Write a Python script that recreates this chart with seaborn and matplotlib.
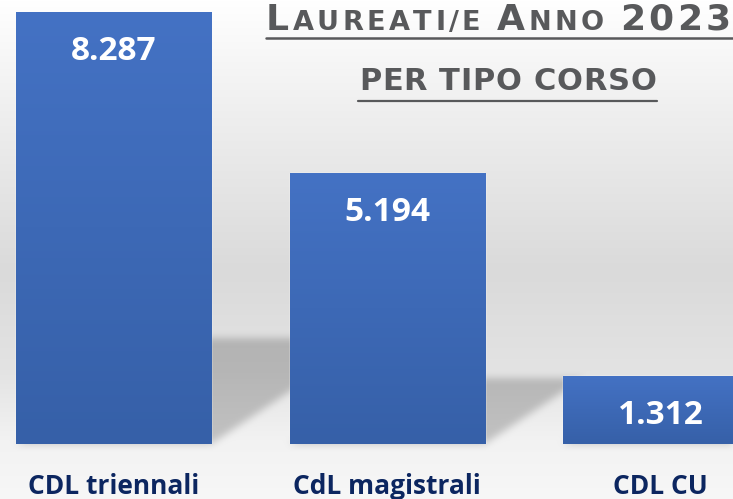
import numpy as np
import pandas as pd
import seaborn as sns
import matplotlib.pyplot as plt

# dati
categories = ["CDL triennali", "CdL magistrali", "CDL CU"]
laureati = [8287, 5194, 1312]
value_labels = ["8.287", "5.194", "1.312"]

# titolo in maiuscoletto: (testo, grande/piccolo)
title_parts = [("L", "big"), ("AUREATI/E ", "small"), ("A", "big"),
               ("NNO ", "small"), ("2023", "big")]
subtitle = "PER TIPO CORSO"

W, H = 733, 499
BAR_TOP = np.array([68, 114, 196]) / 255
BAR_BOT = np.array([54, 96, 168]) / 255
GRAY_TXT = "#58595b"
TITLE_FONT = ['DejaVu Sans']

sns.set_theme(style="white")
plt.rcParams['font.family'] = ['Open Sans', 'DejaVu Sans']

fig = plt.figure(figsize=(W / 100, H / 100), dpi=100)
fig.patch.set_facecolor('#f5f5f5')
bg_ax = fig.add_axes([0, 0, 1, 1], zorder=0)
bg_ax.axis('off')
ax = fig.add_axes([0, 55 / H, 1, 444 / H], zorder=1)
ax.patch.set_alpha(0)

df = pd.DataFrame({"corso": categories, "laureati": laureati})
sns.barplot(data=df, x="corso", y="laureati", color="#4472c4", saturation=1,
            width=0.713, ax=ax)

# gradiente dentro le barre
g = np.linspace(0, 1, 256)[:, None, None]
rgb = BAR_TOP * (1 - g) + BAR_BOT * g
for p in ax.patches:
    x, w, h = p.get_x(), p.get_width(), p.get_height()
    im = ax.imshow(rgb, extent=(x, x + w, 0, h), aspect='auto',
                   zorder=p.get_zorder() + 0.1)
    im.set_clip_path(p)

ax.set_xlim(-0.415, 2.265)
ax.set_ylim(0, max(laureati) / 0.973)
sns.despine(ax=ax, left=True, bottom=True)
ax.set_yticks([])
ax.set_xlabel("")
ax.set_ylabel("")
ax.tick_params(axis='x', length=0, pad=21, labelsize=19, labelcolor='#0c2660')
for lab in ax.get_xticklabels():
    lab.set_fontweight('bold')

for p, lab in zip(ax.patches, value_labels):
    ax.annotate(lab, (p.get_x() + p.get_width() / 2, p.get_height()),
                xytext=(0, -48), textcoords='offset pixels', ha='center',
                va='baseline', color='white', fontsize=24, fontweight='bold',
                zorder=5)

# sfondo: gradiente verticale + ombre prospettiche
rows = np.arange(H)
grad = np.interp(rows, [0, 110, 270, 370, 440, 499],
                 [255, 239, 218, 227, 242, 247]) / 255
img = np.repeat(grad[:, None], W, axis=1)

yy, xx = np.mgrid[0:H, 0:W] + 0.5
shade = np.zeros((H, W))
for p in ax.patches:
    (x0, y0), (x1, y1) = ax.transData.transform(
        [(p.get_x(), 0), (p.get_x() + p.get_width(), p.get_height())])
    floor = H - y0
    sh = 0.245 * (y1 - y0)
    f = floor - yy
    inside = (f >= 0) & (f <= sh) & (xx >= x0 + 1.5 * f) & (xx <= x1 + 1.5 * f)
    shade[inside] = 1


def blur(a, k):
    kern = np.ones(k) / k
    a = np.apply_along_axis(lambda r: np.convolve(r, kern, mode='same'), 1, a)
    return np.apply_along_axis(lambda c: np.convolve(c, kern, mode='same'), 0, a)


shade = blur(blur(shade, 9), 9)
img = img * (1 - 0.2 * shade)
bg_ax.imshow(np.dstack([img] * 3), extent=(0, W, 0, H), aspect='auto')
bg_ax.set_xlim(0, W)
bg_ax.set_ylim(0, H)

# testo spaziato carattere per carattere
renderer = fig.canvas.get_renderer()


def text_width(s, size):
    t = fig.text(0, 0, s, fontsize=size, fontweight='bold', family=TITLE_FONT)
    w = t.get_window_extent(renderer).width
    t.remove()
    return w


def spaced_text(chars, left, right, baseline, color):
    advs = [text_width(c + "|", s) - text_width("|", s) for c, s in chars]
    advs[-1] = text_width(chars[-1][0], chars[-1][1])
    track = (right - left - sum(advs)) / (len(chars) - 1)
    x = left
    for (c, s), a in zip(chars, advs):
        if c != " ":
            fig.text(x / W, 1 - baseline / H, c, fontsize=s, fontweight='bold',
                     family=TITLE_FONT, color=color, ha='left',
                     va='baseline', zorder=5)
        x += a + track


sizes = {"big": 26, "small": 19.5}
chars = [(c, sizes[k]) for txt, k in title_parts for c in txt]
spaced_text(chars, 266, 731, 30, GRAY_TXT)
fig.add_artist(plt.Line2D([266 / W, 1], [1 - 38 / H] * 2, color=GRAY_TXT,
                          lw=1.8, transform=fig.transFigure))

spaced_text([(c, 22) for c in subtitle], 359, 656, 90, GRAY_TXT)
fig.add_artist(plt.Line2D([358 / W, 657 / W], [1 - 101 / H] * 2,
                          color=GRAY_TXT, lw=1.6, transform=fig.transFigure))

fig.savefig("out.png", dpi=100, facecolor=fig.get_facecolor())
